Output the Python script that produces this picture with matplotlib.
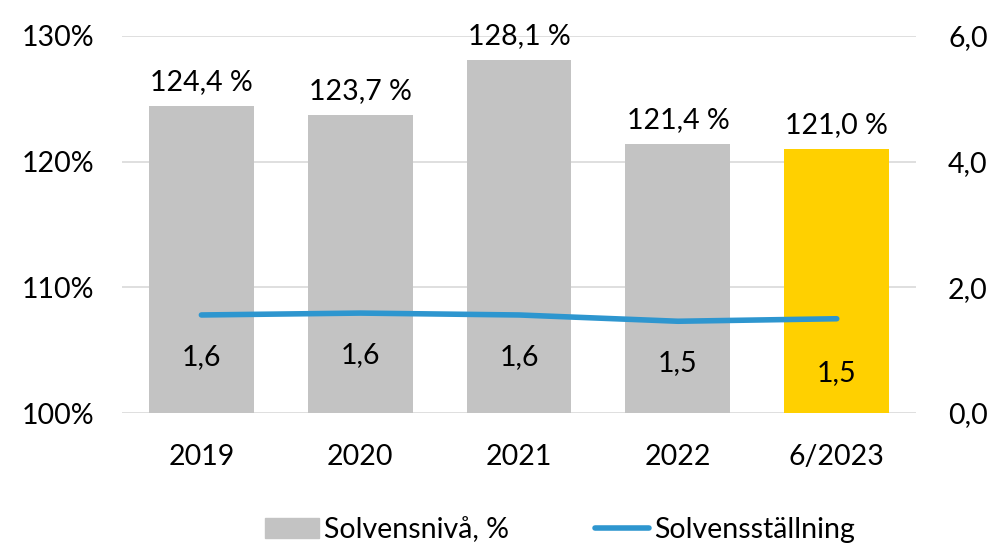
import matplotlib
matplotlib.use("Agg")
import matplotlib.pyplot as plt
from matplotlib.patches import Patch
import numpy as np

plt.rcParams['font.family'] = ['Lato', 'DejaVu Sans']

categories = ['2019', '2020', '2021', '2022', '6/2023']
solvency_level = [124.4, 123.7, 128.1, 121.4, 121.0]  # %
solvency_pos = [1.56, 1.59, 1.56, 1.46, 1.50]
solvency_pos_labels = ['1,6', '1,6', '1,6', '1,5', '1,5']
bar_colors = ['#c3c3c3', '#c3c3c3', '#c3c3c3', '#c3c3c3', '#ffd000']
line_color = '#2e96cf'

fs = 20.5
fig = plt.figure(figsize=(9.94, 5.45), dpi=100)
ax = fig.add_axes([0.1227, 0.2422, 0.799, 0.6918])
x = np.arange(len(categories))

ax.bar(x, [v - 100 for v in solvency_level], bottom=100, width=0.66,
       color=bar_colors, zorder=2, label='Solvensnivå, %')
ax.set_ylim(100, 130)
ax.set_yticks([100, 110, 120, 130])
ax.set_yticklabels(['100%', '110%', '120%', '130%'])
ax.set_xlim(-0.5, len(categories) - 0.5)
ax.set_xticks(x)
ax.set_xticklabels(categories)
ax.grid(axis='y', color='#d9d9d9', linewidth=1.2, zorder=0)
ax.tick_params(axis='both', length=0, labelsize=fs)
ax.tick_params(axis='y', pad=20)
ax.tick_params(axis='x', pad=22)
for s in ax.spines.values():
    s.set_visible(False)

for xi, v in zip(x, solvency_level):
    ax.annotate(f"{v:.1f} %".replace('.', ','), (xi, v), xytext=(0, 8),
                textcoords='offset points', ha='center', va='bottom', fontsize=fs)

ax2 = ax.twinx()
ax2.plot(x, solvency_pos, color=line_color, linewidth=4, solid_capstyle='round',
         zorder=3, label='Solvensställning')
ax2.set_ylim(0, 6)
ax2.set_yticks([0, 2, 4, 6])
ax2.set_yticklabels(['0,0', '2,0', '4,0', '6,0'])
ax2.tick_params(axis='y', length=0, labelsize=fs, pad=23)
for s in ax2.spines.values():
    s.set_visible(False)

offsets = [-30, -30, -30, -30, -39]
for xi, v, lab, off in zip(x, solvency_pos, solvency_pos_labels, offsets):
    ax2.annotate(lab, (xi, v), xytext=(0, off), textcoords='offset points',
                 ha='center', va='center', fontsize=fs)

h2, l2 = ax2.get_legend_handles_labels()
h1 = [Patch(color='#c3c3c3')]
fig.legend(h1 + h2, ['Solvensnivå, %'] + l2, loc='center',
           bbox_to_anchor=(560 / 994, 1 - 530 / 545),
           ncol=2, frameon=False, fontsize=fs, handlelength=1.9, handletextpad=0.2,
           columnspacing=3.0)

fig.savefig('out.png', dpi=100)
